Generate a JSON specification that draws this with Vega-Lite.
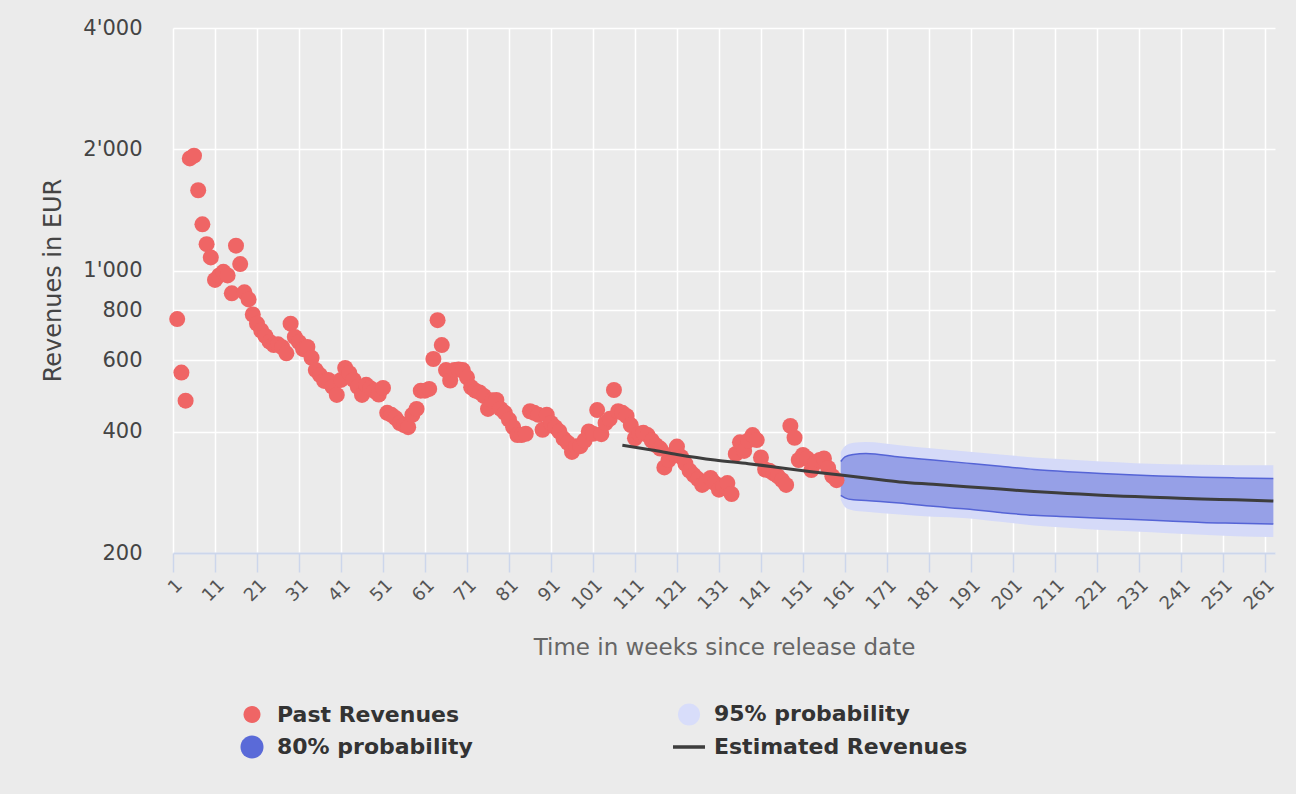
{
  "$schema": "https://vega.github.io/schema/vega-lite/v6.json",
  "width": 1102,
  "height": 525,
  "autosize": {"type": "none"},
  "padding": {"left": 173, "top": 28, "right": 21, "bottom": 241},
  "background": "#ebebeb",
  "config": {
    "view": {"stroke": null, "fill": "#ebebeb"},
    "font": "DejaVu Sans"
  },
  "datasets": {
    "past": [
      {"w":2,"v":760},{"w":3,"v":560},{"w":4,"v":477},{"w":5,"v":1900},{"w":6,"v":1930},{"w":7,"v":1585},{"w":8,"v":1305},{"w":9,"v":1165},{"w":10,"v":1080},
      {"w":11,"v":950},{"w":12,"v":975},{"w":13,"v":995},{"w":14,"v":975},{"w":15,"v":880},{"w":16,"v":1155},{"w":17,"v":1040},{"w":18,"v":885},{"w":19,"v":850},{"w":20,"v":780},
      {"w":21,"v":740},{"w":22,"v":712},{"w":23,"v":690},{"w":24,"v":668},{"w":25,"v":655},{"w":26,"v":658},{"w":27,"v":647},{"w":28,"v":625},{"w":29,"v":740},{"w":30,"v":686},
      {"w":31,"v":666},{"w":32,"v":640},{"w":33,"v":648},{"w":34,"v":609},{"w":35,"v":568},{"w":36,"v":552},{"w":37,"v":534},{"w":38,"v":537},{"w":39,"v":516},{"w":40,"v":493},
      {"w":41,"v":537},{"w":42,"v":575},{"w":43,"v":558},{"w":44,"v":537},{"w":45,"v":516},{"w":46,"v":493},{"w":47,"v":522},{"w":48,"v":512},{"w":49,"v":504},{"w":50,"v":494},
      {"w":51,"v":513},{"w":52,"v":445},{"w":53,"v":440},{"w":54,"v":432},{"w":55,"v":420},{"w":56,"v":415},{"w":57,"v":410},{"w":58,"v":440},{"w":59,"v":455},{"w":60,"v":505},
      {"w":61,"v":505},{"w":62,"v":510},{"w":63,"v":605},{"w":64,"v":755},{"w":65,"v":655},{"w":66,"v":568},{"w":67,"v":535},{"w":68,"v":568},{"w":69,"v":570},{"w":70,"v":568},
      {"w":71,"v":545},{"w":72,"v":515},{"w":73,"v":505},{"w":74,"v":500},{"w":75,"v":490},{"w":76,"v":455},{"w":77,"v":478},{"w":78,"v":479},{"w":79,"v":455},{"w":80,"v":445},
      {"w":81,"v":428},{"w":82,"v":410},{"w":83,"v":392},{"w":84,"v":392},{"w":85,"v":395},{"w":86,"v":449},{"w":87,"v":445},{"w":88,"v":440},{"w":89,"v":404},{"w":90,"v":440},
      {"w":91,"v":420},{"w":92,"v":410},{"w":93,"v":400},{"w":94,"v":384},{"w":95,"v":375},{"w":96,"v":356},{"w":97,"v":368},{"w":98,"v":368},{"w":99,"v":380},{"w":100,"v":400},
      {"w":101,"v":395},{"w":102,"v":452},{"w":103,"v":394},{"w":104,"v":420},{"w":105,"v":430},{"w":106,"v":507},{"w":107,"v":449},{"w":108,"v":445},{"w":109,"v":437},{"w":110,"v":415},
      {"w":111,"v":385},{"w":112,"v":395},{"w":113,"v":397},{"w":114,"v":392},{"w":115,"v":380},{"w":116,"v":370},{"w":117,"v":363},{"w":118,"v":326},{"w":119,"v":340},{"w":120,"v":352},
      {"w":121,"v":367},{"w":122,"v":346},{"w":123,"v":333},{"w":124,"v":320},{"w":125,"v":312},{"w":126,"v":305},{"w":127,"v":295},{"w":128,"v":300},{"w":129,"v":307},{"w":130,"v":298},
      {"w":131,"v":287},{"w":132,"v":294},{"w":133,"v":298},{"w":134,"v":280},{"w":135,"v":352},{"w":136,"v":376},{"w":137,"v":358},{"w":138,"v":380},{"w":139,"v":392},{"w":140,"v":381},
      {"w":141,"v":345},{"w":142,"v":322},{"w":143,"v":320},{"w":144,"v":315},{"w":145,"v":310},{"w":146,"v":303},{"w":147,"v":295},{"w":148,"v":413},{"w":149,"v":386},{"w":150,"v":340},
      {"w":151,"v":350},{"w":152,"v":343},{"w":153,"v":321},{"w":154,"v":335},{"w":155,"v":340},{"w":156,"v":343},{"w":157,"v":325},{"w":158,"v":310},{"w":159,"v":303}
    ],
    "band": [
      {"w":160,"lo95":271,"hi95":356,"lo80":278,"hi80":337},
      {"w":161,"lo95":260,"hi95":368,"lo80":274,"hi80":346},
      {"w":163,"lo95":255,"hi95":375,"lo80":271,"hi80":351},
      {"w":166,"lo95":253,"hi95":377,"lo80":270,"hi80":353},
      {"w":174,"lo95":249,"hi95":370,"lo80":266,"hi80":346},
      {"w":182,"lo95":246,"hi95":363,"lo80":261,"hi80":340},
      {"w":190,"lo95":244,"hi95":357,"lo80":257,"hi80":334},
      {"w":198,"lo95":239,"hi95":351,"lo80":252,"hi80":328},
      {"w":206,"lo95":234,"hi95":345,"lo80":248,"hi80":322},
      {"w":214,"lo95":231,"hi95":341,"lo80":246,"hi80":318},
      {"w":222,"lo95":228,"hi95":337,"lo80":244,"hi80":315},
      {"w":230,"lo95":226,"hi95":334,"lo80":242,"hi80":312},
      {"w":238,"lo95":224,"hi95":332,"lo80":240,"hi80":310},
      {"w":246,"lo95":222,"hi95":331,"lo80":238,"hi80":308},
      {"w":254,"lo95":220,"hi95":330,"lo80":237,"hi80":307},
      {"w":263,"lo95":219,"hi95":330,"lo80":236,"hi80":306}
    ],
    "estimate": [
      {"w":108,"v":370},{"w":115,"v":360},{"w":121,"v":351},{"w":130,"v":340},{"w":138,"v":333},{"w":146,"v":325},{"w":153,"v":318},
      {"w":160,"v":312},{"w":167,"v":306},{"w":174,"v":300},{"w":182,"v":296},{"w":190,"v":292},{"w":198,"v":288},{"w":206,"v":284},
      {"w":214,"v":281},{"w":222,"v":278},{"w":230,"v":276},{"w":238,"v":274},{"w":246,"v":272},{"w":254,"v":271},{"w":263,"v":269}
    ],
    "legend": [
      {"series":"Past Revenues"},{"series":"95% probability"},{"series":"80% probability"},{"series":"Estimated Revenues"}
    ]
  },
  "encoding": {
    "x": {
      "field": "w", "type": "quantitative",
      "scale": {"domain": [1, 263.4], "nice": false, "zero": false},
      "axis": {
        "values": [1,11,21,31,41,51,61,71,81,91,101,111,121,131,141,151,161,171,181,191,201,211,221,231,241,251,261],
        "grid": true, "gridColor": "#ffffff", "gridWidth": 1.5,
        "labelAngle": -45, "labelFontSize": 18, "labelColor": "#555555", "labelPadding": 4,
        "tickColor": "#ccd6eb", "tickSize": 19, "tickWidth": 1.5,
        "domainColor": "#ccd6eb", "domainWidth": 2,
        "title": "Time in weeks since release date", "titleFontSize": 23, "titleFontWeight": "normal",
        "titleColor": "#666666", "titleY": 94, "titleBaseline": "middle"
      }
    }
  },
  "layer": [
    {
      "data": {"name": "band"},
      "mark": {"type": "area", "interpolate": "monotone", "color": "#d5daf8", "opacity": 1},
      "encoding": {
        "y": {
          "field": "lo95", "type": "quantitative",
          "scale": {"type": "log", "domain": [200, 4000], "nice": false},
          "axis": {
            "values": [200,400,600,800,1000,2000,4000],
            "labelExpr": "replace(format(datum.value, ','), ',', \"'\")",
            "grid": true, "gridColor": "#ffffff", "gridWidth": 1.5,
            "domain": false, "ticks": false,
            "labelFontSize": 21, "labelColor": "#444444", "labelPadding": 31,
            "title": "Revenues in EUR", "titleFontSize": 24, "titleFontWeight": "normal", "titleColor": "#444444",
            "titleX": -120, "titleY": 252, "titleBaseline": "middle"
          }
        },
        "y2": {"field": "hi95"}
      }
    },
    {
      "data": {"name": "band"},
      "mark": {"type": "area", "interpolate": "monotone", "color": "#96a0e7", "opacity": 1},
      "encoding": {
        "y": {"field": "lo80", "type": "quantitative"},
        "y2": {"field": "hi80"}
      }
    },
    {
      "data": {"name": "band"},
      "mark": {"type": "line", "interpolate": "monotone", "color": "#5564d6", "strokeWidth": 1.5},
      "encoding": {"y": {"field": "lo80", "type": "quantitative"}}
    },
    {
      "data": {"name": "band"},
      "mark": {"type": "line", "interpolate": "monotone", "color": "#5564d6", "strokeWidth": 1.5},
      "encoding": {"y": {"field": "hi80", "type": "quantitative"}}
    },
    {
      "data": {"name": "past"},
      "mark": {"type": "point", "filled": true, "size": 256, "color": "#ef6565", "opacity": 1},
      "encoding": {"y": {"field": "v", "type": "quantitative"}}
    },
    {
      "data": {"name": "estimate"},
      "mark": {"type": "line", "interpolate": "monotone", "color": "#3d3d3d", "strokeWidth": 3},
      "encoding": {"y": {"field": "v", "type": "quantitative"}}
    },
    {
      "data": {"name": "legend"},
      "transform": [{"filter": "false"}],
      "mark": {"type": "point", "filled": true, "opacity": 1},
      "encoding": {
        "x": null,
        "color": {
          "field": "series", "type": "nominal",
          "scale": {
            "domain": ["Past Revenues", "95% probability", "80% probability", "Estimated Revenues"],
            "range": ["#ef6565", "#d8ddfa", "#5a6ad8", "#3d3d3d"]
          },
          "legend": {
            "orient": "none", "legendX": 63, "legendY": 670, "columns": 2, "direction": "horizontal",
            "title": null, "labelFontSize": 22, "labelFontWeight": "bold", "labelColor": "#333333",
            "labelLimit": 0,
            "symbolSize": 1024, "labelOffset": 9, "columnPadding": 200, "rowPadding": 5, "padding": 0,
            "symbolStrokeWidth": 0, "symbolOpacity": 1
          }
        },
        "shape": {
          "field": "series", "type": "nominal",
          "scale": {
            "domain": ["Past Revenues", "95% probability", "80% probability", "Estimated Revenues"],
            "range": [
              "M-0.53,0A0.53,0.53,0,1,1,0.53,0A0.53,0.53,0,1,1,-0.53,0Z",
              "M-0.69,0A0.69,0.69,0,1,1,0.69,0A0.69,0.69,0,1,1,-0.69,0Z",
              "M-0.72,0A0.72,0.72,0,1,1,0.72,0A0.72,0.72,0,1,1,-0.72,0Z",
              "M-1,-0.11H1V0.11H-1Z"
            ]
          }
        }
      }
    }
  ]
}
